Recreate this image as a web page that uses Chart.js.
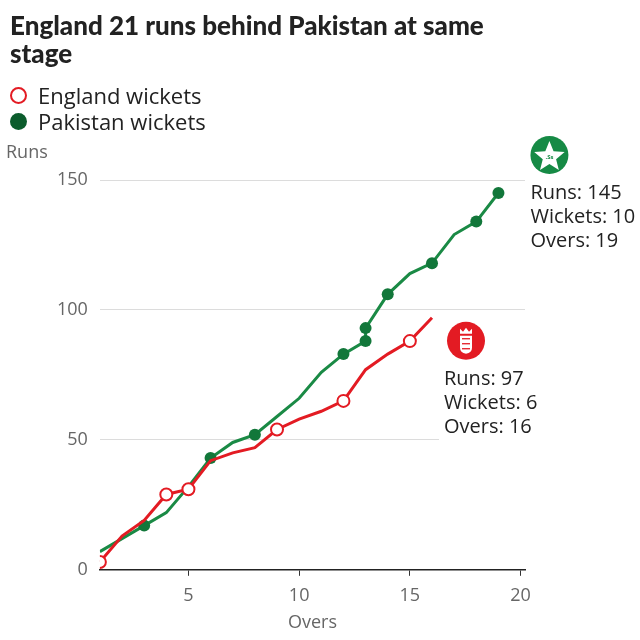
<!DOCTYPE html>
<html>
<head>
<meta charset="utf-8">
<script src="https://cdn.jsdelivr.net/npm/chart.js@4/dist/chart.umd.min.js"></script>
<style>
  body { margin: 0; background: #fff; font-family: 'Open Sans', sans-serif; }
  #wrap { position: relative; width: 640px; height: 640px; }
  #chart { position: absolute; left: 0; top: 0; }
  h1 { position: absolute; left: 10px; top: 11px; margin: 0; font-family: Lato, sans-serif; font-size: 26px; line-height: 28px; font-weight: 900; color: #222; z-index: 2; }
  .legend { position: absolute; left: 10px; font-size: 22px; color: #222; z-index: 2; display: flex; align-items: center; }
  .dot { width: 17px; height: 17px; border-radius: 50%; margin-right: 11px; box-sizing: border-box; }
  .runs { position: absolute; left: 6px; top: 139px; font-size: 18px; color: #666; z-index: 2; }
</style>
</head>
<body>
<div id="wrap">
  <h1>England 21 runs behind Pakistan at same<br>stage</h1>
  <div class="legend" style="top:80px"><span class="dot" style="border:2.5px solid #e31b23"></span>England wickets</div>
  <div class="legend" style="top:106px"><span class="dot" style="background:#0b5c2c"></span>Pakistan wickets</div>
  <div class="runs">Runs</div>
  <canvas id="chart" width="640" height="640"></canvas>
</div>
<script>
// runs at the end of each over, 1 = wicket fell in that over
const englandOvers = [1, 2, 3, 4, 5, 6, 7, 8, 9, 10, 11, 12, 13, 14, 15, 16];
const englandRuns = [3, 13, 19, 29, 31, 42, 45, 47, 54, 58, 61, 65, 77, 83, 88, 97];
const englandWickets = [1, 0, 0, 1, 1, 0, 0, 0, 1, 0, 0, 1, 0, 0, 1, 0];

const pakistanOvers = [1, 2, 3, 4, 5, 6, 7, 8, 9, 10, 11, 12, 13, 13, 14, 15, 16, 17, 18, 19];
const pakistanRuns = [7, 12, 17, 22, 32, 43, 49, 52, 59, 66, 76, 83, 88, 93, 106, 114, 118, 129, 134, 145];
const pakistanWickets = [0, 0, 1, 0, 0, 1, 0, 1, 0, 0, 0, 1, 1, 1, 1, 0, 1, 0, 1, 1];

const xTicks = [5, 10, 15, 20];
const yTicks = [0, 50, 100, 150];

const RED = '#e31b23';
const GREEN = '#1a8a45';

const toPoints = (xs, ys) => xs.map((x, i) => ({ x: x, y: ys[i] }));

// summary labels + team badges next to the last point of each line
const endLabels = {
  id: 'endLabels',
  beforeDatasetsDraw(chart) {
    const ctx = chart.ctx;
    const eng = chart.getDatasetMeta(0).data;
    const last = eng[eng.length - 1];
    ctx.save();
    ctx.fillStyle = '#fff';
    ctx.fillRect(last.x + 7, last.y + 48, 100, 80);
    ctx.restore();
  },
  afterDatasetsDraw(chart) {
    const ctx = chart.ctx;
    const eng = chart.getDatasetMeta(0).data;
    const pak = chart.getDatasetMeta(1).data;
    const e = eng[eng.length - 1];
    const p = pak[pak.length - 1];
    ctx.save();

    // Pakistan badge
    let cx = p.x + 51, cy = p.y - 38;
    ctx.fillStyle = '#168a45';
    ctx.beginPath(); ctx.arc(cx, cy, 19, 0, Math.PI * 2); ctx.fill();
    ctx.fillStyle = '#fff';
    ctx.beginPath();
    for (let i = 0; i < 10; i++) {
      const r = i % 2 === 0 ? 16 : 7;
      const a = -Math.PI / 2 + i * Math.PI / 5;
      const px = cx + r * Math.cos(a), py = cy + 2 + r * Math.sin(a);
      if (i === 0) ctx.moveTo(px, py); else ctx.lineTo(px, py);
    }
    ctx.closePath(); ctx.fill();
    ctx.fillStyle = '#168a45';
    ctx.font = 'bold 6px "Open Sans"';
    ctx.textAlign = 'center'; ctx.textBaseline = 'middle';
    ctx.fillText('.Ss', cx, cy + 2);

    // England badge
    cx = e.x + 34; cy = e.y + 23;
    ctx.fillStyle = RED;
    ctx.beginPath(); ctx.arc(cx, cy, 19, 0, Math.PI * 2); ctx.fill();
    ctx.fillStyle = '#fff';
    // crown
    ctx.beginPath();
    ctx.moveTo(cx - 6, cy - 7); ctx.lineTo(cx - 6, cy - 12); ctx.lineTo(cx - 3, cy - 9);
    ctx.lineTo(cx, cy - 13); ctx.lineTo(cx + 3, cy - 9); ctx.lineTo(cx + 6, cy - 12);
    ctx.lineTo(cx + 6, cy - 7); ctx.closePath(); ctx.fill();
    // shield
    ctx.beginPath();
    ctx.moveTo(cx - 6, cy - 5); ctx.lineTo(cx + 6, cy - 5); ctx.lineTo(cx + 6, cy + 7);
    ctx.quadraticCurveTo(cx + 6, cy + 12, cx, cy + 13);
    ctx.quadraticCurveTo(cx - 6, cy + 12, cx - 6, cy + 7);
    ctx.closePath(); ctx.fill();
    ctx.strokeStyle = RED; ctx.lineWidth = 1.3;
    [-2, 3, 8].forEach(dy => {
      ctx.beginPath(); ctx.moveTo(cx - 4, cy + dy); ctx.lineTo(cx + 4, cy + dy); ctx.stroke();
    });

    // texts
    ctx.fillStyle = '#222';
    ctx.font = '20px "Open Sans"';
    ctx.textAlign = 'left'; ctx.textBaseline = 'middle';
    const pakLines = ['Runs: ' + pakistanRuns[pakistanRuns.length - 1],
      'Wickets: ' + pakistanWickets.reduce((a, b) => a + b, 0),
      'Overs: ' + pakistanOvers[pakistanOvers.length - 1]];
    pakLines.forEach((t, i) => ctx.fillText(t, p.x + 32, p.y + i * 24));
    const engLines = ['Runs: ' + englandRuns[englandRuns.length - 1],
      'Wickets: ' + englandWickets.reduce((a, b) => a + b, 0),
      'Overs: ' + englandOvers[englandOvers.length - 1]];
    engLines.forEach((t, i) => ctx.fillText(t, e.x + 12, e.y + 62 + i * 24));
    ctx.restore();
  }
};

new Chart(document.getElementById('chart'), {
  type: 'line',
  data: {
    datasets: [
      {
        label: 'England',
        data: toPoints(englandOvers, englandRuns),
        borderColor: RED,
        borderWidth: 3,
        pointRadius: englandWickets.map(w => w ? 6 : 0),
        pointBackgroundColor: '#fff',
        pointBorderColor: RED,
        pointBorderWidth: 2,
        tension: 0,
        order: 1
      },
      {
        label: 'Pakistan',
        data: toPoints(pakistanOvers, pakistanRuns),
        borderColor: GREEN,
        borderWidth: 3,
        pointRadius: pakistanWickets.map(w => w ? 6 : 0),
        pointBackgroundColor: '#12773a',
        pointBorderColor: '#12773a',
        pointBorderWidth: 0,
        tension: 0,
        order: 2
      }
    ]
  },
  options: {
    responsive: false,
    animation: false,
    layout: { padding: { top: 180, left: 45, right: 115, bottom: 6 } },
    plugins: { legend: { display: false }, tooltip: { enabled: false } },
    scales: {
      x: {
        type: 'linear',
        min: 1,
        max: 20.2,
        afterBuildTicks: axis => { axis.ticks = xTicks.map(v => ({ value: v })); },
        grid: { drawOnChartArea: false, drawTicks: true, tickLength: 6, color: '#333' },
        border: { color: '#222', width: 1.5 },
        ticks: { color: '#666', font: { family: 'Open Sans', size: 18 }, padding: 9, maxRotation: 0 },
        title: { display: true, text: 'Overs', color: '#666', font: { family: 'Open Sans', size: 18 }, padding: { top: -3, bottom: 0 } }
      },
      y: {
        min: 0,
        max: 150,
        afterBuildTicks: axis => { axis.ticks = yTicks.map(v => ({ value: v })); },
        grid: { drawTicks: false, color: ctx => ctx.tick && ctx.tick.value === 0 ? 'rgba(0,0,0,0)' : '#dcdcdc' },
        border: { display: false },
        ticks: { color: '#666', font: { family: 'Open Sans', size: 18 }, padding: 12 }
      }
    }
  },
  plugins: [endLabels]
});
</script>
</body>
</html>
